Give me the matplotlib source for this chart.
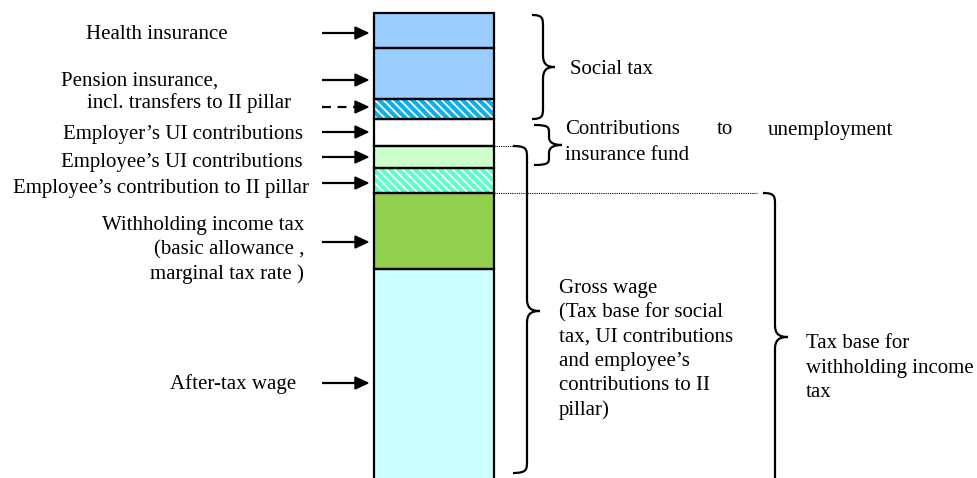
import matplotlib
matplotlib.use("Agg")
import matplotlib.pyplot as plt
from matplotlib.path import Path
from matplotlib.patches import PathPatch, Polygon

plt.rcParams['font.family'] = ['Liberation Serif', 'DejaVu Serif']
plt.rcParams['hatch.color'] = 'white'
plt.rcParams['hatch.linewidth'] = 1.3

# ---- data: stacked wage components (arbitrary units, top to bottom) ----
segments = ["Health insurance", "Pension insurance", "Transfers to II pillar",
            "Employer's UI contributions", "Employee's UI contributions",
            "Employee's contribution to II pillar", "Withholding income tax",
            "After-tax wage"]
heights = [35, 51, 20, 27, 22, 25, 76, 215]
colors = ["#99CCFF", "#99CCFF", "#0AAFEF", "#FFFFFF", "#CCFFCC",
          "#5CFFC8", "#92D050", "#CCFFFF"]
hatched = [False, False, True, False, False, True, False, False]
bar_top = 13

left_labels = ["Health insurance", "Pension insurance,",
               "incl. transfers to II pillar", "Employer\u2019s UI contributions",
               "Employee\u2019s UI contributions",
               "Employee\u2019s contribution to II pillar",
               "Withholding income tax", "(basic allowance ,",
               "marginal tax rate )", "After-tax wage"]

fig = plt.figure(figsize=(9.78, 4.78), dpi=100)
ax = fig.add_axes([0, 0, 1, 1])
ax.set_xlim(0, 978)
ax.set_ylim(478, 0)
ax.axis('off')

FS = 15
DY = 2  # text vertical nudge
bx, bw = 434, 120

# bars
bottoms = []
b = bar_top
for h in heights:
    bottoms.append(b)
    b += h
for h, b0, c, ht in zip(heights, bottoms, colors, hatched):
    ax.bar(bx, h, bottom=b0, width=bw, color=c, edgecolor='white' if ht else c,
           linewidth=0, hatch='\\\\\\\\' if ht else None, zorder=2)
    ax.bar(bx, h, bottom=b0, width=bw, facecolor='none', edgecolor='black',
           linewidth=1.6, zorder=3)


def arrow(y, dashed=False, x0=322, x1=368):
    hl, hw = 13, 6
    ax.plot([x0, x1 - hl], [y, y], color='black', lw=1.6,
            linestyle=(0, (4, 3)) if dashed else '-', zorder=4,
            solid_capstyle='butt')
    ax.add_patch(Polygon([[x1 - hl, y - hw], [x1, y], [x1 - hl, y + hw]],
                         closed=True, color='black', zorder=4))


for y, d in [(33, False), (80, False), (107, True), (132, False),
             (157, False), (183, False), (242, False), (383, False)]:
    arrow(y, d)

# left labels
lab_pos = [(86, 32), (61, 79), (87, 101), (63, 133), (61, 161), (13, 187),
           (304, 223), (304, 248), (304, 272), (170, 382)]
for i, (t, (x, y)) in enumerate(zip(left_labels, lab_pos)):
    ha = 'right' if 6 <= i <= 8 else 'left'
    ax.text(x, y + DY, t, fontsize=FS, ha=ha, va='center')


def brace(xe, xv, xt, y0, y1, ym, r=12):
    # right-pointing curly brace
    verts = [(xe, y0),
             (xv, y0), (xv, y0 + r * 0.3), (xv, y0 + r),
             (xv, ym - r),
             (xv, ym - 2), (xv + (xt - xv) * 0.4, ym), (xt, ym),
             (xv + (xt - xv) * 0.4, ym), (xv, ym + 2), (xv, ym + r),
             (xv, y1 - r),
             (xv, y1 - r * 0.3), (xv, y1), (xe, y1)]
    codes = [Path.MOVETO,
             Path.CURVE4, Path.CURVE4, Path.CURVE4,
             Path.LINETO,
             Path.CURVE4, Path.CURVE4, Path.CURVE4,
             Path.CURVE4, Path.CURVE4, Path.CURVE4,
             Path.LINETO,
             Path.CURVE4, Path.CURVE4, Path.CURVE4]
    ax.add_patch(PathPatch(Path(verts, codes), facecolor='none',
                           edgecolor='black', lw=1.6, zorder=4))


brace(532, 543, 555, 15, 119, 67)
brace(534, 549, 562, 125, 165, 145, r=8)
brace(513, 527, 540, 146, 473, 311)
brace(763, 775, 788, 193, 490, 337)

# dotted guide lines
ax.plot([494, 520], [146, 146], color='black', lw=0.8, linestyle=(0, (1, 1)), zorder=1)
ax.plot([494, 757], [193, 193], color='black', lw=0.8, linestyle=(0, (1, 1)), zorder=1)

# right labels
ax.text(570, 67 + DY, "Social tax", fontsize=FS, va='center')
ax.text(565, 128 + DY, "Contributions", fontsize=FS, va='center')
ax.text(725, 128 + DY, "to", fontsize=FS, va='center', ha='center')
ax.text(893, 128 + DY, "unemployment", fontsize=FS, va='center', ha='right')
ax.text(565, 153 + DY, "insurance fund", fontsize=FS, va='center')

gross = ["Gross wage", "(Tax base for social", "tax, UI contributions",
         "and employee\u2019s", "contributions to II", "pillar)"]
for i, t in enumerate(gross):
    ax.text(559, 286 + DY + i * 24.4, t, fontsize=FS, va='center')
taxb = ["Tax base for", "withholding income", "tax"]
for i, t in enumerate(taxb):
    ax.text(806, 342 + DY + i * 24.4, t, fontsize=FS, va='center')

fig.savefig("out.png", dpi=100)
